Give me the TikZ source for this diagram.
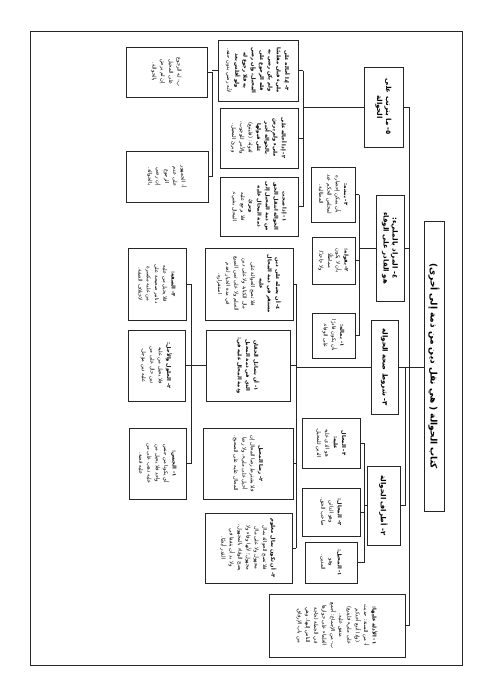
\documentclass[tikz,border=0pt]{standalone}
\usepackage{fontspec}
\newfontfamily\arfont[Script=Arabic]{DejaVu Sans}
\TeXXeTstate=1
\newcommand\rl[1]{\beginR #1\endR}
\newcommand\hd[1]{{\bfseries\beginR #1\endR}}
\tikzset{
  box/.style={draw=black!85, line width=0.8pt, rotate=-90, inner sep=1.5pt, align=center, fill=white,
    font=\arfont\fontsize{5.2}{8.3}\selectfont},
  lvl/.style={box, font=\arfont\bfseries\fontsize{7}{9}\selectfont},
  ttl/.style={box, font=\arfont\bfseries\fontsize{9}{10}\selectfont},
  link/.style={draw=black!85, line width=1pt},
}
\newcommand\mybox[7][box]{\node[#1, minimum width={(#6-#5)*1pt}, minimum height={(#4-#3)*1pt}] (#2) at ({(#3+#4)/2},{(#5+#6)/2}) {#7};}
\begin{document}
\begin{tikzpicture}[x=1pt,y=-1pt]
\useasboundingbox[fill=white] (0,0) rectangle (491,694);
\draw[black!85, line width=1pt] (30,31) rectangle (462,665);

% title and level 1
\mybox[ttl]{T}{424}{444}{221}{511}{\rl{كتاب الحوالة ( هي نقل دين من ذمة إلى أخرى)}}
\mybox[lvl]{B5}{364}{403}{67}{147}{\rl{٥- ما يترتب على}\\\rl{الحوالة}}
\mybox[lvl]{B4}{376}{404}{195}{301}{\rl{٤- المراد بالمليء:}\\\rl{هو القادر على الوفاء}}
\mybox[lvl]{B3}{371}{398}{320}{414}{\rl{٣- شروط صحة الحوالة}}
\mybox[lvl]{B2}{367}{400}{466}{545}{\rl{٢- أطراف الحوالة}}
\mybox{B1}{269}{405}{594}{657}{\hd{١- الأدلة عليها:}\\\rl{أ- من السنة: حديث}\\\rl{(وإذا أتبع أحدكم}\\\rl{على مليء فليتبع)}\\\rl{متفق عليه.}\\\rl{ب- من الإجماع: أجمع}\\\rl{العلماء على جوازها}\\\rl{في الجملة لحاجة}\\\rl{الناس إليها، وهي}\\\rl{من باب الإرفاق.}}

% children of B5
\mybox{C53}{218}{298}{40}{101}{\hd{٣- إذا أحاله على}\\\hd{مليء فبان مفلسًا}\\\hd{ولم يكن رضي به}\\\hd{فله الرجوع على}\\\hd{المحيل، وإن رضي}\\\hd{به فلا رجوع له}\\\hd{ولو أفلس بعد}\\\rl{لأنه رضي بدون حقه.}}
\mybox{C52}{220}{298}{108}{168}{\hd{٢- إذا أحاله على}\\\hd{مليء ولم يرضَ}\\\hd{بالحوالة أُجبر}\\\hd{على قبولها}\\\rl{لقوله: (فليتبع)}\\\rl{والأمر للوجوب،}\\\rl{وبرئ المحيل.}}
\mybox{C51}{220}{298}{177}{236}{\hd{١- إذا صحت}\\\hd{الحوالة انتقل الحق}\\\hd{من ذمة المحيل إلى}\\\hd{ذمة المحال عليه}\\\hd{وبرئ}\\\rl{فلا يرجع عليه}\\\rl{المحال بشيء.}}
\mybox{D1}{126}{207}{47}{97}{\rl{ب- له الرجوع}\\\rl{على المحيل}\\\rl{إن لم يرضَ}\\\rl{بالحوالة.}}
\mybox{D2}{126}{208}{151}{202}{\rl{أ- الجمهور}\\\rl{على عدم}\\\rl{الرجوع}\\\rl{إن رضي}\\\rl{بالحوالة.}}

% children of B4
\mybox{C43}{311}{355}{167}{222}{\hd{٣- ببدنه:}\\\rl{بأن يمكن إحضاره}\\\rl{لمجلس الحكم عند}\\\rl{المطالبة.}}
\mybox{C42}{312}{355}{237}{284}{\hd{٢- بقوله:}\\\rl{بأن لا يكون}\\\rl{مماطلًا}\\\rl{ولا جاحدًا.}}
\mybox{C41}{312}{355}{313}{358}{\hd{١- بماله:}\\\rl{بأن يكون قادرًا}\\\rl{على الوفاء.}}

% children of B3
\mybox{C3a}{205}{293}{248}{320}{\hd{٤- أن يحيله على دين}\\\hd{مستقر في ذمة المحال}\\\hd{عليه}\\\rl{فلا تصح الحوالة على}\\\rl{مال الكتابة ولا على دين}\\\rl{السلم ولا على ثمن المبيع}\\\rl{في مدة الخيار لعدم}\\\rl{استقراره.}}
\mybox{C3b}{206}{290}{330}{401}{\hd{١- أن يتماثل الحقان}\\\hd{الذي في ذمة المحيل}\\\hd{وذمة المحال عليه في:}}
\mybox{C3c}{203}{293}{428}{499}{\hd{٢- رضا المحيل}\\\rl{فلا يشترط رضا المحال إن}\\\rl{أحيل على مليء، ولا رضا}\\\rl{المحال عليه على الصحيح.}}
\mybox{C3d}{205}{292}{513}{583}{\hd{٣- أن تكون بمال معلوم}\\\rl{فلا تصح الحوالة بمال}\\\rl{مجهول ولا على مال}\\\rl{مجهول؛ لأنها وفاء ولا}\\\rl{يصح الوفاء بالمجهول،}\\\rl{ولا بد أن يتفقا في}\\\rl{القدر أيضًا.}}
\mybox{E3}{128}{186}{248}{320}{\hd{٣- الصفة:}\\\rl{فلا يحيل من عليه}\\\rl{دنانير صحيحة على}\\\rl{من عليه مكسرة}\\\rl{لاختلاف الصفة.}}
\mybox{E2}{128}{185}{330}{401}{\hd{٢- الحلول والأجل:}\\\rl{فلا يحيل من عليه}\\\rl{دين حال على من}\\\rl{عليه دين مؤجل.}}
\mybox{E1}{129}{186}{428}{499}{\hd{١- الجنس:}\\\rl{أي يكونا من جنس}\\\rl{واحد فلا يحيل من}\\\rl{عليه ذهب على من}\\\rl{عليه فضة.}}

% children of B2
\mybox{C23}{302}{360}{418}{468}{\hd{٣- المحال}\\\hd{عليه:}\\\rl{هو الذي عليه}\\\rl{الدين للمحيل.}}
\mybox{C22}{302}{360}{488}{536}{\hd{٢- المحال:}\\\rl{وهو الدائن}\\\rl{صاحب الحق.}}
\mybox{C21}{305}{357}{542}{583}{\hd{١- المحيل:}\\\rl{وهو}\\\rl{المدين.}}

% connectors: trunk
\coordinate (trunk) at (409,0);
\coordinate (trunkb) at (405,0);
\draw[link] (B5.north -| trunk) -- (B1.north -| trunk);
\foreach \n in {B5,B4,B1} \draw[link] (\n.north) -- (\n.north -| trunk);
\draw[link] (B3.north) -- (B3.north -| T.south);
\draw[link] (B2.north) -- (B2.north -| trunkb) -- (B3.north -| trunkb);

% B5 group
\coordinate (bus5) at (303,0);
\draw[link] (B5.south) -- (B5.south -| bus5);
\draw[link] (C53.north -| bus5) -- (C51.north -| bus5);
\foreach \n in {C53,C52,C51} \draw[link] (\n.north) -- (\n.north -| bus5);
\coordinate (busD) at (212,0);
\draw[link] (C53.south) -- (C53.south -| busD);
\draw[link] (D1.north -| busD) -- (D2.north -| busD);
\foreach \n in {D1,D2} \draw[link] (\n.north) -- (\n.north -| busD);

% B4 group
\coordinate (bus4) at (359,0);
\draw[link] (B4.south) -- (B4.south -| bus4);
\draw[link] (C43.north -| bus4) -- (C41.north -| bus4);
\foreach \n in {C43,C42,C41} \draw[link] (\n.north) -- (\n.north -| bus4);

% B3 group
\coordinate (bus3) at (296,0);
\draw[link] (B3.south) -- (B3.south -| bus3);
\draw[link] (C3a.north -| bus3) -- (C3d.north -| bus3);
\foreach \n in {C3a,C3b,C3c,C3d} \draw[link] (\n.north) -- (\n.north -| bus3);
\coordinate (busE) at (191,0);
\draw[link] (C3b.south) -- (C3b.south -| busE);
\draw[link] (E3.north -| busE) -- (E1.north -| busE);
\foreach \n in {E3,E2,E1} \draw[link] (\n.north) -- (\n.north -| busE);

% B2 group
\coordinate (bus2) at (364,0);
\draw[link] (B2.south) -- (B2.south -| bus2);
\draw[link] (C23.north -| bus2) -- (C21.north -| bus2);
\foreach \n in {C23,C22,C21} \draw[link] (\n.north) -- (\n.north -| bus2);
\end{tikzpicture}
\end{document}
